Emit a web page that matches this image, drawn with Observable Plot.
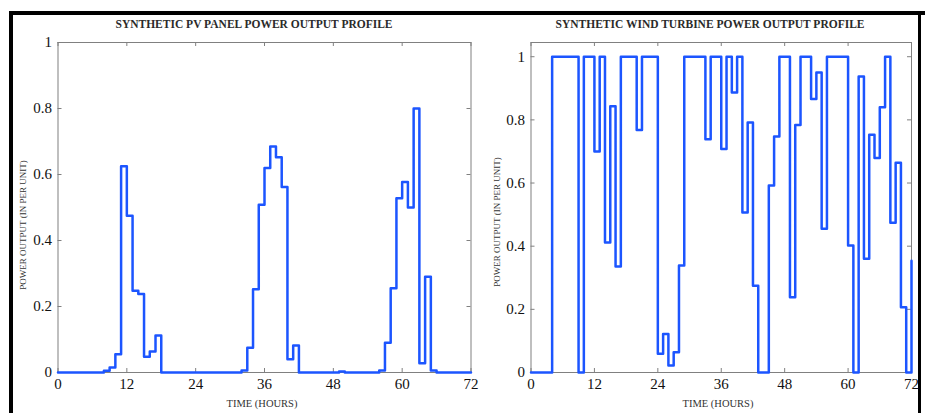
<!DOCTYPE html>
<html><head><meta charset="utf-8">
<script src="https://cdn.jsdelivr.net/npm/d3@7"></script>
<script src="https://cdn.jsdelivr.net/npm/@observablehq/plot@0.6"></script>
<style>
body{margin:0;background:#fff;}
#wrap{position:relative;width:925px;height:413px;overflow:hidden;background:#fff;font-family:"Liberation Serif","Times New Roman",serif;}
#wrap svg{position:absolute;top:0;}
#wrap svg text{font-family:"Liberation Serif","Times New Roman",serif;}
.title{position:absolute;font-weight:bold;font-size:11.5px;line-height:11.5px;color:#2a2a2a;white-space:nowrap;transform:translateX(-50%);}
.xlab{position:absolute;font-size:10.5px;line-height:10.5px;color:#333;white-space:nowrap;transform:translateX(-50%);}
.ylab{position:absolute;font-size:9px;line-height:9px;color:#333;white-space:nowrap;transform:translate(-50%,-50%) rotate(-90deg);}
.bar{position:absolute;background:#000;}
</style></head><body>
<div id="wrap"></div>
<script>
// ---- data (hourly, hours 0..72) ----
const pvTitle = "SYNTHETIC PV PANEL POWER OUTPUT PROFILE";
const windTitle = "SYNTHETIC WIND TURBINE POWER OUTPUT PROFILE";
const xLabel = "TIME (HOURS)";
const yLabel = "POWER OUTPUT (IN PER UNIT)";
const xTicks = [0, 12, 24, 36, 48, 60, 72];
const yTicks = [0, 0.2, 0.4, 0.6, 0.8, 1];

const pvValues = [
  0, 0, 0, 0, 0, 0, 0, 0,
  0.005, 0.015, 0.055, 0.625, 0.475, 0.248, 0.238, 0.048, 0.064, 0.112,
  0, 0, 0, 0, 0, 0, 0, 0, 0, 0, 0, 0, 0, 0,
  0.006, 0.075, 0.252, 0.508, 0.62, 0.685, 0.652, 0.562, 0.04, 0.082,
  0, 0, 0, 0, 0, 0, 0, 0.003, 0, 0, 0, 0, 0, 0,
  0.006, 0.09, 0.255, 0.528, 0.577, 0.50, 0.8, 0.028, 0.29, 0.006,
  0, 0, 0, 0, 0, 0, 0
];

const windValues = [
  0, 0, 0, 0,
  1, 1, 1, 1, 1,
  0,
  1, 1,
  0.7, 1, 0.412, 0.843, 0.336,
  1, 1, 1,
  0.768,
  1, 1, 1,
  0.059, 0.122, 0.022, 0.064, 0.339,
  1, 1, 1, 1,
  0.739, 1, 1, 0.708, 1, 0.887, 1, 0.507, 0.792, 0.275,
  0, 0,
  0.592, 0.747, 1, 1, 0.238, 0.784, 1, 1, 0.866, 0.95, 0.455,
  1, 1, 1, 1,
  0.402, 0, 0.937, 0.36, 0.753, 0.679, 0.84, 1, 0.474, 0.664, 0.207, 0, 0.354
];

const blue = "#1c55ff";
const axisColor = "#808080";
const serif = "'Liberation Serif','Times New Roman',serif";

function panel(values, {width, marginLeft, marginRight, yMax}) {
  const H = 413, mt = 42, mb = 41;
  const innerW = width - marginLeft - marginRight, innerH = H - mt - mb;
  const data = values.map((v, i) => ({h: i, v}));
  return Plot.plot({
    width, height: H, marginTop: mt, marginBottom: mb, marginLeft, marginRight,
    x: {domain: [0, 72]},
    y: {domain: [0, yMax]},
    style: {fontFamily: serif, fontSize: "15px", color: "#111", background: "transparent", overflow: "visible"},
    marks: [
      Plot.frame({stroke: axisColor}),
      Plot.tickX(xTicks, {x: d => d, stroke: axisColor, insetTop: innerH - 4}),
      Plot.tickX(xTicks, {x: d => d, stroke: axisColor, insetBottom: innerH - 4}),
      Plot.tickY(yTicks, {y: d => d, stroke: axisColor, insetRight: innerW - 4}),
      Plot.tickY(yTicks, {y: d => d, stroke: axisColor, insetLeft: innerW - 4}),
      Plot.axisX(xTicks, {tickSize: 0, tickPadding: 6, label: null, tickFormat: d => String(d), fontFamily: serif, fontSize: 15}),
      Plot.axisY(yTicks, {tickSize: 0, tickPadding: 6, label: null, tickFormat: d => String(d), fontFamily: serif, fontSize: 15}),
      Plot.line(data, {x: "h", y: "v", curve: "step-after", stroke: blue, strokeWidth: 2.5})
    ]
  });
}

const wrap = document.getElementById("wrap");

const left = panel(pvValues, {width: 480, marginLeft: 57.5, marginRight: 9.5, yMax: 1});
left.style.left = "0px";
wrap.appendChild(left);

const right = panel(windValues, {width: 445, marginLeft: 50.5, marginRight: 14, yMax: 1.045});
right.style.left = "480px";
wrap.appendChild(right);

function addDiv(cls, text, x, y) {
  const d = document.createElement("div");
  d.className = cls;
  d.textContent = text;
  d.style.left = x + "px";
  d.style.top = y + "px";
  wrap.appendChild(d);
}
addDiv("title", pvTitle, 254, 18.5);
addDiv("title", windTitle, 710, 18.5);
addDiv("xlab", xLabel, 262, 399);
addDiv("xlab", xLabel, 718, 399);
addDiv("ylab", yLabel, 23, 225);
addDiv("ylab", yLabel, 497, 222);

// outer black border of the figure
function bar(x, y, w, h) {
  const d = document.createElement("div");
  d.className = "bar";
  Object.assign(d.style, {left: x + "px", top: y + "px", width: w + "px", height: h + "px"});
  wrap.appendChild(d);
}
bar(9, 11, 916, 4);
bar(9, 11, 4, 402);
bar(918, 11, 3, 402);
</script>
</body></html>
